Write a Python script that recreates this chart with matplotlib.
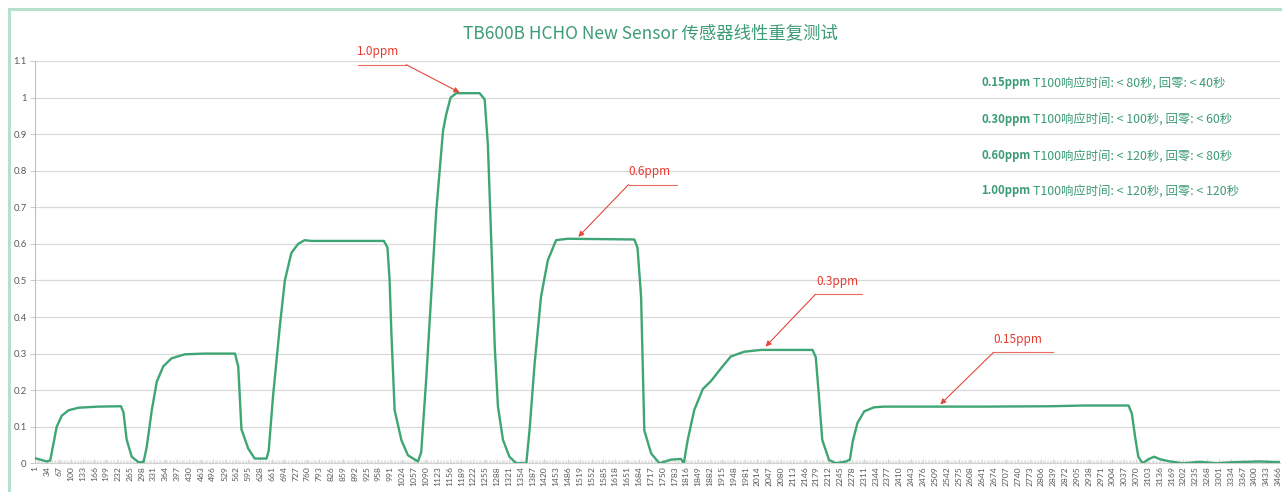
import matplotlib
matplotlib.use("Agg")
import matplotlib.pyplot as plt
from matplotlib.lines import Line2D

# ---------------- data ----------------
sample_idx = [1, 8, 34, 43, 61, 75, 94, 122, 177, 240, 247, 256, 270, 289, 303,
              312, 326, 340, 358, 381, 418, 474, 558, 567, 576, 595, 613, 646,
              652, 664, 683, 697, 715, 734, 752, 771, 973, 983, 989, 994, 1003,
              1022, 1040, 1068, 1077, 1091, 1105, 1119, 1138, 1147, 1159, 1175,
              1240, 1254, 1263, 1273, 1282, 1291, 1305, 1323, 1342, 1370, 1379,
              1393, 1411, 1430, 1453, 1485, 1671, 1680, 1690, 1699, 1718, 1741,
              1773, 1801, 1809, 1820, 1838, 1862, 1885, 1913, 1940, 1977, 2024,
              2168, 2177, 2186, 2195, 2214, 2233, 2261, 2272, 2280, 2293, 2312,
              2339, 2367, 2646, 2831, 2924, 3049, 3058, 3067, 3076, 3088, 3104,
              3120, 3137, 3164, 3201, 3248, 3294, 3340, 3414, 3470]
concentration = [0.014, 0.012, 0.005, 0.008, 0.100, 0.130, 0.145, 0.152, 0.155, 0.156,
                 0.140, 0.065, 0.018, 0.003, 0.003, 0.045, 0.145, 0.223, 0.265,
                 0.287, 0.298, 0.300, 0.300, 0.265, 0.093, 0.040, 0.013, 0.013,
                 0.035, 0.183, 0.375, 0.500, 0.575, 0.600, 0.610, 0.608, 0.608,
                 0.590, 0.500, 0.355, 0.145, 0.063, 0.022, 0.005, 0.030, 0.230,
                 0.460, 0.690, 0.910, 0.955, 1.000, 1.012, 1.012, 0.995, 0.870,
                 0.590, 0.320, 0.155, 0.064, 0.018, 0.000, 0.000, 0.090, 0.270,
                 0.455, 0.555, 0.610, 0.614, 0.612, 0.590, 0.455, 0.090, 0.027,
                 0.000, 0.010, 0.012, 0.000, 0.064, 0.145, 0.203, 0.225, 0.260,
                 0.292, 0.305, 0.310, 0.310, 0.290, 0.180, 0.064, 0.009, 0.000,
                 0.005, 0.010, 0.060, 0.110, 0.142, 0.153, 0.155, 0.155, 0.156,
                 0.158, 0.158, 0.136, 0.073, 0.018, 0.000, 0.011, 0.018, 0.011,
                 0.005, 0.000, 0.004, 0.000, 0.003, 0.005, 0.003]

x_tick_values = list(range(1, 3467, 33))
x_tick_labels = [str(v) for v in x_tick_values]
y_tick_values = [0, 0.1, 0.2, 0.3, 0.4, 0.5, 0.6, 0.7, 0.8, 0.9, 1.0, 1.1]
y_tick_labels = ["0", "0.1", "0.2", "0.3", "0.4", "0.5", "0.6", "0.7", "0.8",
                 "0.9", "1", "1.1"]

title_text = "TB600B HCHO New Sensor 传感器线性重复测试"
callout_labels = ["1.0ppm", "0.6ppm", "0.3ppm", "0.15ppm"]
panel_levels = ["0.15ppm", "0.30ppm", "0.60ppm", "1.00ppm"]
panel_notes = ["T100响应时间: < 80秒, 回零: < 40秒",
               "T100响应时间: < 100秒, 回零: < 60秒",
               "T100响应时间: < 120秒, 回零: < 80秒",
               "T100响应时间: < 120秒, 回零: < 120秒"]

# ---------------- styling ----------------
CJK = ["Noto Sans CJK SC", "DejaVu Sans"]
plt.rcParams["font.family"] = CJK
LINE_GREEN = "#3fa574"
TEXT_GREEN = "#3c9c74"
RED = "#e5392d"
GRID = "#d9d9d9"
TICK_TXT = "#595959"

W, H = 1282, 492
fig = plt.figure(figsize=(W / 100, H / 100), dpi=100)
ax = fig.add_axes([35 / W, 1 - 463.3 / H, (1280 - 35) / W, (463.3 - 61) / H])

ax.plot(sample_idx, concentration, color=LINE_GREEN, lw=1.7, solid_joinstyle="round",
        zorder=3)

ax.set_xlim(0.5, 3471)
ax.set_ylim(0, 1.1)
ax.set_yticks(y_tick_values)
ax.set_yticklabels(y_tick_labels, fontsize=6.8, color=TICK_TXT, family="Lato")
ax.set_xticks(x_tick_values)
ax.set_xticklabels(x_tick_labels, rotation=90, fontsize=6.1, color=TICK_TXT,
                   family="Lato")
ax.set_xticks(list(range(1, 3471, 4)), minor=True)
ax.tick_params(axis="x", which="major", length=3, width=0.6, color="#cfcfcf",
               pad=2, direction="in")
ax.tick_params(axis="x", which="minor", length=2.5, width=0.5, color="#dadada",
               direction="in")
ax.tick_params(axis="y", length=3.5, width=0.6, color="#bfbfbf", pad=2.5)

ax.grid(axis="y", color=GRID, lw=0.9)
ax.set_axisbelow(True)
for s in ["top", "right"]:
    ax.spines[s].set_visible(False)
ax.spines["left"].set_color("#bfbfbf")
ax.spines["bottom"].set_color("#d0d0d0")
ax.spines["left"].set_linewidth(0.8)
ax.spines["bottom"].set_linewidth(0.8)

# ---------------- callouts ----------------
# (tip_x, tip_y, elbow_x, line_end_x, line_y, text_x, text_y)
callout_geom = [
    (1184, 1.014, 1035, 901, 1.090, 957, 1.127),
    (1515, 0.619, 1655, 1790, 0.762, 1714, 0.797),
    (2037, 0.319, 2176, 2307, 0.462, 2238, 0.498),
    (2524, 0.161, 2672, 2838, 0.303, 2740, 0.339),
]
for label, (tx, ty, ex, lx, ly, txx, tyy) in zip(callout_labels, callout_geom):
    ax.plot([ex, lx], [ly, ly], color="#ec6a60", lw=0.8, clip_on=False, zorder=4)
    ax.annotate("", xy=(tx, ty), xytext=(ex, ly), annotation_clip=False,
                arrowprops=dict(arrowstyle="-|>", color="#e5483c", lw=0.8,
                                mutation_scale=8, shrinkA=0, shrinkB=0),
                zorder=5)
    ax.text(txx, tyy, label, color=RED, fontsize=8.5, ha="center", va="center",
            clip_on=False, zorder=5)

# ---------------- title & side panel ----------------
fig.text(650 / W, 1 - 33 / H, title_text, ha="center", va="center",
         fontsize=12.5, color=TEXT_GREEN)

panel_y = [82.7, 119.3, 155.7, 190.7]
for lvl, note, py in zip(panel_levels, panel_notes, panel_y):
    fig.text(981 / W, 1 - py / H, lvl, ha="left", va="center", fontsize=8.2,
             color=TEXT_GREEN, fontweight="bold")
    fig.text(1033 / W, 1 - py / H, note, ha="left", va="center", fontsize=8.9,
             color=TEXT_GREEN)

# ---------------- outer frame (left and top edges) ----------------
fx, fy = 9 / W, 1 - 9 / H
fig.add_artist(Line2D([fx, fx], [0, fy], transform=fig.transFigure,
                      color="#b5e0cc", lw=2.2))
fig.add_artist(Line2D([fx, 1], [fy, fy], transform=fig.transFigure,
                      color="#b5e0cc", lw=2.2))

fig.savefig("out.png", dpi=100)
